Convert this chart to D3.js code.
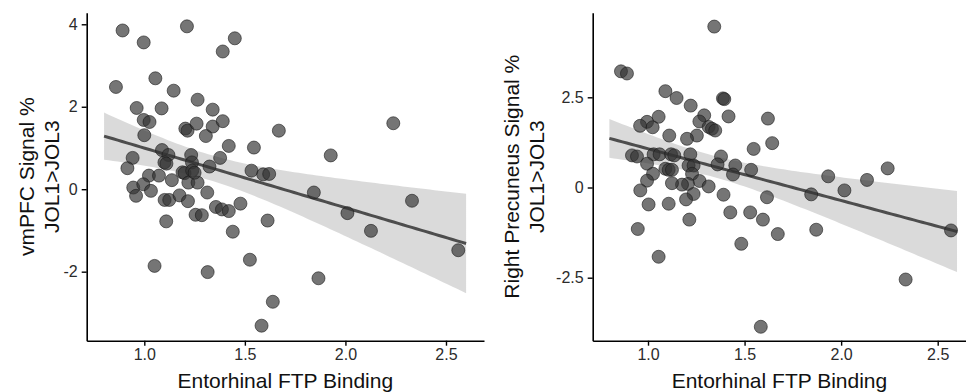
<!DOCTYPE html>
<html>
<head>
<meta charset="utf-8">
<script src="https://cdn.jsdelivr.net/npm/d3@7"></script>
<style>
  html, body { margin: 0; padding: 0; background: #fff; }
  svg { display: block; font-family: "Liberation Sans", Arial, Helvetica, sans-serif; }
</style>
</head>
<body>
<svg id="chart" width="966" height="392"></svg>
<script>
// ---------- data ----------
const xLabel = "Entorhinal FTP Binding";
const leftTitle = ["vmPFC Signal %", "JOL1>JOL3"];
const rightTitle = ["Right Precuneus Signal %", "JOL1>JOL3"];

const xTicks = [1.0, 1.5, 2.0, 2.5];
const leftYTicks = [-2, 0, 2, 4];
const rightYTicks = [-2.5, 0, 2.5];
const fitRange = [0.8, 2.6];

const leftX = [0.892,1.212,0.997,1.45,1.39,0.859,1.055,1.146,1.265,0.962,1.086,1.34,0.997,1.026,1.204,1.215,1.26,1.34,1.39,1.306,
  1.0,1.669,2.238,1.42,1.545,1.088,0.942,1.12,1.233,1.377,1.927,1.10,1.11,0.916,1.324,1.19,1.20,1.023,1.073,1.533,
  1.591,1.621,1.137,1.219,1.265,0.945,0.995,0.959,1.033,1.313,1.843,1.101,1.124,1.175,1.217,2.331,1.356,1.386,1.42,1.478,
  1.255,1.286,2.01,1.109,1.613,1.44,2.127,2.561,1.525,1.051,1.315,1.866,1.639,1.583,1.237,1.238,1.25];
const leftY = [3.85,3.95,3.56,3.66,3.34,2.48,2.69,2.39,2.17,1.97,1.96,1.93,1.68,1.63,1.47,1.42,1.59,1.52,1.65,1.29,
  1.31,1.42,1.60,1.05,1.01,0.95,0.76,0.83,0.83,0.76,0.82,0.65,0.62,0.51,0.55,0.41,0.39,0.33,0.33,0.45,
  0.36,0.37,0.22,0.16,0.16,0.04,0.12,-0.16,-0.04,-0.08,-0.08,-0.26,-0.26,-0.15,-0.29,-0.28,-0.43,-0.49,-0.53,-0.35,
  -0.62,-0.63,-0.58,-0.78,-0.76,-1.03,-1.01,-1.48,-1.71,-1.86,-2.01,-2.16,-2.73,-3.31,0.65,0.45,0.40];

const rightX = [1.343,0.860,0.891,1.090,1.148,1.221,1.388,1.395,1.417,1.621,1.055,0.995,0.959,1.024,1.291,1.266,1.314,1.331,1.348,1.110,
  1.253,1.202,1.547,1.643,0.917,0.943,1.029,1.060,1.119,1.136,1.219,1.378,0.995,1.026,0.995,0.960,1.090,1.107,1.124,1.210,
  1.236,1.228,1.267,1.207,1.176,1.124,1.314,1.236,1.197,1.003,1.107,1.391,1.360,1.452,1.534,1.440,1.426,1.529,1.595,1.616,
  1.214,0.947,1.055,1.483,1.584,1.672,1.845,1.933,2.017,2.134,2.241,1.871,2.334,2.569];
const rightY = [4.46,3.22,3.16,2.67,2.48,2.27,2.47,2.45,1.97,1.91,1.96,1.82,1.71,1.67,2.00,1.83,1.68,1.63,1.58,1.44,
  1.44,1.35,1.07,1.23,0.89,0.86,0.92,0.92,0.92,0.89,0.92,0.86,0.66,0.38,0.19,-0.08,0.52,0.49,0.49,0.61,
  0.61,0.38,0.18,0.10,0.08,0.12,0.03,-0.18,-0.33,-0.47,-0.45,-0.20,0.64,0.61,0.49,0.36,-0.69,-0.69,-0.89,-0.27,
  -0.89,-1.15,-1.92,-1.56,-3.86,-1.29,-0.19,0.31,-0.08,0.21,0.53,-1.17,-2.55,-1.19];

// ---------- layout ----------
const svg = d3.select("#chart");
const panels = [
  { xs: leftX, ys: leftY, yTicks: leftYTicks, title: leftTitle,
    xRange: [86.7, 484], yRange: [340.7, 12.7], yDomain: [-3.674, 4.281], titleX: [34, 59] },
  { xs: rightX, ys: rightY, yTicks: rightYTicks, title: rightTitle,
    xRange: [592.7, 974.2], yRange: [340.7, 12.7], yDomain: [-4.246, 4.845], titleX: [519, 543.5] }
];
const xDomain = [0.7136, 2.689];
const fmtTick = v => (Number.isInteger(v) ? String(v) : v.toFixed(1)).replace("\u2212", "-");

// t quantile 0.975 approximation for df
function tq(df) {
  const z = 1.959964;
  const g1 = (z**3 + z) / 4, g2 = (5*z**5 + 16*z**3 + 3*z) / 96;
  return z + g1/df + g2/(df*df);
}

panels.forEach(p => {
  const x = d3.scaleLinear().domain(xDomain).range(p.xRange);
  const y = d3.scaleLinear().domain(p.yDomain).range(p.yRange);
  const g = svg.append("g");

  // linear fit + 95% CI
  const pts = p.xs.map((v, i) => [v, p.ys[i]]);
  const n = pts.length;
  const mx = d3.mean(pts, d => d[0]), my = d3.mean(pts, d => d[1]);
  const sxx = d3.sum(pts, d => (d[0]-mx)**2);
  const sxy = d3.sum(pts, d => (d[0]-mx)*(d[1]-my));
  const b = sxy / sxx, a = my - b*mx;
  const s = Math.sqrt(d3.sum(pts, d => (d[1] - a - b*d[0])**2) / (n-2));
  const t = tq(n-2);
  const grid = d3.range(0, 81).map(i => fitRange[0] + (fitRange[1]-fitRange[0]) * i / 80);
  const band = grid.map(xv => {
    const fit = a + b*xv;
    const se = s * Math.sqrt(1/n + (xv-mx)**2/sxx);
    return { x: xv, fit, lo: fit - t*se, hi: fit + t*se };
  });

  g.append("path").datum(band)
    .attr("d", d3.area().x(d => x(d.x)).y0(d => y(d.lo)).y1(d => y(d.hi)))
    .attr("fill", "#999").attr("fill-opacity", 0.36);
  g.append("path").datum(band)
    .attr("d", d3.line().x(d => x(d.x)).y(d => y(d.fit)))
    .attr("fill", "none").attr("stroke", "#4d4d4d").attr("stroke-width", 3);

  g.selectAll("circle.pt").data(pts).join("circle").attr("class", "pt")
    .attr("cx", d => x(d[0])).attr("cy", d => y(d[1])).attr("r", 6.5)
    .attr("fill", "#333").attr("fill-opacity", 0.68)
    .attr("stroke", "#1a1a1a").attr("stroke-opacity", 0.6).attr("stroke-width", 1);

  // axes
  const xAxis = g.append("g").attr("transform", `translate(0,${p.yRange[0]})`)
    .call(d3.axisBottom(x).tickValues(xTicks).tickFormat(d3.format(".1f")).tickSize(5).tickPadding(3).tickSizeOuter(0));
  const yAxis = g.append("g").attr("transform", `translate(${p.xRange[0]},0)`)
    .call(d3.axisLeft(y).tickValues(p.yTicks).tickFormat(fmtTick).tickSize(5).tickPadding(4).tickSizeOuter(0));
  [xAxis, yAxis].forEach(ax => {
    ax.select(".domain").attr("stroke", "#000").attr("stroke-width", 1.6);
    ax.selectAll(".tick line").attr("stroke", "#000").attr("stroke-width", 1.4);
    ax.selectAll(".tick text").attr("fill", "#2b2b2b").attr("font-size", 16)
      .attr("font-family", '"Liberation Sans", Arial, sans-serif');
  });

  // titles
  g.append("text").attr("x", (p.xRange[0] + p.xRange[1]) / 2 + (p === panels[1] ? -4 : 0)).attr("y", 388)
    .attr("text-anchor", "middle").attr("font-size", 21).attr("fill", "#111").text(xLabel);
  const cy = (p.yRange[0] + p.yRange[1]) / 2;
  p.title.forEach((line, i) => {
    g.append("text").attr("transform", `translate(${p.titleX[i]},${cy}) rotate(-90)`)
      .attr("text-anchor", "middle").attr("font-size", 21).attr("fill", "#111").text(line);
  });
});
</script>
</body>
</html>
